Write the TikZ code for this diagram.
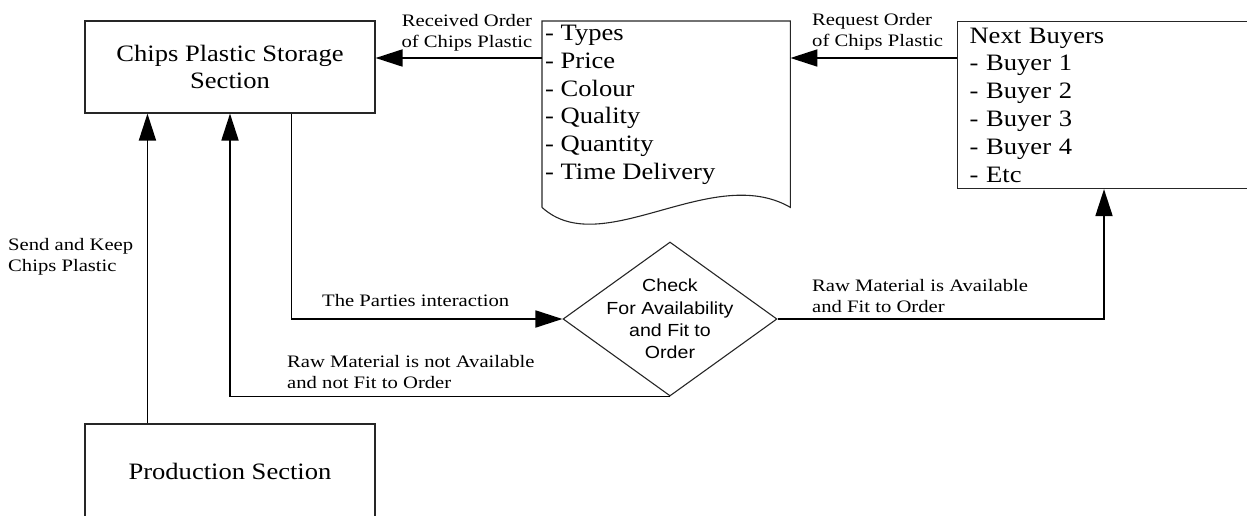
\documentclass[tikz,border=0pt]{standalone}
\usepackage{fontspec}
\setmainfont{Liberation Serif}[FakeStretch=1.13]
\newfontfamily\smallserif{Liberation Serif}[FakeStretch=1.18]
\newfontfamily\arialf{Liberation Sans}[FakeStretch=1.12]
\usetikzlibrary{arrows.meta,shapes.geometric,calc}
\begin{document}
\begin{tikzpicture}[x=1pt,y=-1pt,
  box/.style={draw=black!85, line width=1.1pt, rectangle, inner sep=0pt},
  conn/.style={line width=1.8pt, -{Triangle[length=27pt,width=17pt]}},
  big/.style={font=\fontsize{23.5}{27.8}\selectfont},
  lbl/.style={font=\smallserif\fontsize{17.5}{21.6}\selectfont, inner sep=0pt},
  chktext/.style={font=\arialf\fontsize{17.5}{22.3}\selectfont, align=center, inner sep=0pt},
]
\useasboundingbox (0,0) rectangle (1247,516);
\begin{scope}
\clip (0,0) rectangle (1247,516);
% boxes
\node[box, minimum width=290pt, minimum height=92pt, big, align=center] (store) at (230,67) {Chips Plastic Storage\\Section};
\node[box, minimum width=290pt, minimum height=94pt, big] (prod) at (230,471) {Production Section};
\node[box, anchor=north west, minimum width=316pt, minimum height=167pt, text width=292pt, inner xsep=12pt, big, align=left] (buy) at (957,21)
  {Next Buyers\\- Buyer 1\\- Buyer 2\\- Buyer 3\\- Buyer 4\\- Etc};
% document shape
\node[anchor=north west, minimum width=248pt, minimum height=186pt, inner sep=0pt] (doc) at (542,21) {};
\draw[draw=black!85, line width=1.1pt] (doc.south west) -- (doc.north west) -- (doc.north east) -- (doc.south east)
  .. controls (712,162) and (602,262) .. (doc.south west);
\node[anchor=north west, big, align=left, inner sep=0pt] (doclist) at (545,25)
  {- Types\\- Price\\- Colour\\- Quality\\- Quantity\\- Time Delivery};
% decision
\node[draw=black!85, line width=1.1pt, diamond, inner sep=0pt, minimum width=214pt, minimum height=154pt] (chk) at (670,319) {};
\node[chktext] (chktxt) at (670,319) {Check\\For Availability\\and Fit to\\Order};
% connector helper coordinates
\coordinate (docin) at ($(doc.north west)+(0,37)$);
\coordinate (buyout) at ($(buy.north west)+(0,37)$);
\coordinate (p1) at ($(prod.north west)+(63,0)$);
\coordinate (s1) at ($(store.south west)+(207,0)$);
\coordinate (b1) at ($(buy.south west)+(147,0)$);
% connectors
\draw[conn] (docin) -- (docin -| store.east);
\draw[conn] (buyout) -- (buyout -| doc.north east);
\draw[conn] (p1) -- (p1 |- store.south);
\draw[conn] (s1) |- (chk.west);
\draw[conn] (chk.south) -| (store.south);
\draw[conn] (chk.east) -| (b1);
% labels
\node[lbl, align=center, anchor=north] (lrecv) at (467,14) {Received Order\\of Chips Plastic};
\node[lbl, align=left, anchor=north west] (lreq) at (812,13) {Request Order\\of Chips Plastic};
\node[lbl, align=left, anchor=north west] (lsend) at (8,238) {Send and Keep\\Chips Plastic};
\node[lbl, align=left, anchor=north west] (lpart) at (322,294) {The Parties interaction};
\node[lbl, align=left, anchor=north west] (lnot) at (287,355) {Raw Material is not Available\\and not Fit to Order};
\node[lbl, align=left, anchor=north west] (lyes) at (812,279) {Raw Material is Available\\and Fit to Order};
\end{scope}
\end{tikzpicture}
\end{document}
